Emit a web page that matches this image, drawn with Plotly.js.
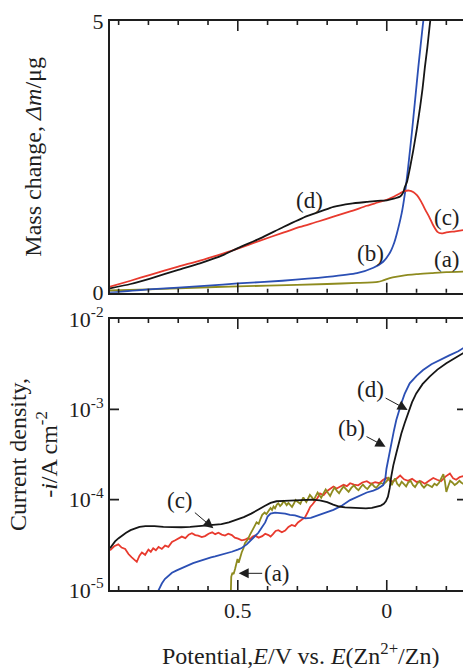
<!DOCTYPE html>
<html>
<head>
<meta charset="utf-8">
<script src="https://cdn.plot.ly/plotly-3.0.1.min.js"></script>
<style>
html,body{margin:0;padding:0;background:#fff;overflow:hidden;width:463px;height:668px;}
#chart{width:480px;height:668px;}
</style>
</head>
<body>
<div id="chart"></div>
<script>
// ---- Top panel: mass change (µg) vs potential (V) ----
const topE_a = [0.929,0.8,0.6,0.4,0.2,0.1,0.03,0.015,0.0,-0.02,-0.05,-0.1,-0.15,-0.2,-0.266];
const topM_a = [0.04,0.06,0.10,0.13,0.16,0.18,0.2,0.22,0.25,0.28,0.31,0.34,0.36,0.38,0.39];

const topE_b = [0.929,0.8,0.6,0.5,0.35,0.2,0.1,0.045,0.012,-0.011,-0.025,-0.034,-0.05,-0.061,-0.072,-0.084,-0.095,-0.106,-0.121,-0.127];
const topM_b = [0.0,0.06,0.13,0.17,0.22,0.29,0.36,0.46,0.57,0.74,0.92,1.09,1.46,1.83,2.32,2.93,3.54,4.15,4.92,5.2];

const topE_c = [0.929,0.86,0.794,0.7,0.627,0.55,0.5,0.425,0.35,0.291,0.23,0.179,0.12,0.067,0.03,0.0,-0.025,-0.045,-0.06,-0.075,-0.09,-0.102,-0.115,-0.13,-0.142,-0.155,-0.17,-0.184,-0.2,-0.23,-0.256,-0.266];
const topM_c = [0.11,0.22,0.33,0.48,0.59,0.72,0.81,0.96,1.1,1.21,1.31,1.4,1.5,1.6,1.66,1.71,1.77,1.83,1.87,1.88,1.85,1.79,1.68,1.52,1.4,1.25,1.12,1.09,1.11,1.13,1.15,1.16];

const topE_d = [0.929,0.86,0.794,0.7,0.627,0.55,0.5,0.425,0.347,0.268,0.22,0.179,0.12,0.067,0.03,0.0,-0.045,-0.055,-0.061,-0.068,-0.078,-0.089,-0.1,-0.112,-0.12,-0.128,-0.136,-0.143,-0.148];
const topM_d = [0.08,0.16,0.26,0.42,0.54,0.69,0.82,1.0,1.21,1.41,1.5,1.58,1.64,1.67,1.69,1.70,1.77,1.84,1.95,2.04,2.3,2.62,2.98,3.42,3.75,4.15,4.5,4.86,5.1];

// ---- Bottom panel: current density (A cm^-2) vs potential (V) ----
const botE_black = [0.929,0.92,0.912,0.9,0.89,0.875,0.86,0.845,0.83,0.81,
  0.78,0.75,0.72,0.69,0.66,0.63,0.61,0.582,0.555,0.53,
  0.5,0.48,0.455,0.435,0.41,0.39,0.37,0.345,0.32,0.3,
  0.275,0.25,0.225,0.2,0.18,0.16,0.14,0.12,0.1,0.07,
  0.05,0.035,0.02,0.01,0.003,-0.004,-0.01,-0.015,-0.022,-0.032,
  -0.04,-0.049,-0.06,-0.071,-0.085,-0.099,-0.12,-0.144,-0.17,-0.2,
  -0.23,-0.256,-0.266];
const botI_black = [2.9e-5,3.2e-5,3.45e-5,3.75e-5,4.0e-5,4.3e-5,4.6e-5,4.8e-5,5.0e-5,5.1e-5,
  5.1e-5,5.0e-5,4.95e-5,4.95e-5,5.0e-5,5.1e-5,5.2e-5,5.3e-5,5.35e-5,5.6e-5,
  6.0e-5,6.4e-5,7.0e-5,7.7e-5,8.5e-5,9.2e-5,9.6e-5,9.7e-5,9.8e-5,9.9e-5,
  1.0e-4,1.0e-4,9.8e-5,9.4e-5,8.8e-5,8.4e-5,8.2e-5,8.1e-5,8.0e-5,8.0e-5,
  8.1e-5,8.3e-5,8.6e-5,9.0e-5,9.6e-5,1.08e-4,1.35e-4,1.8e-4,2.4e-4,3.26e-4,
  4.2e-4,5.4e-4,7.0e-4,9.0e-4,1.2e-3,1.5e-3,1.9e-3,2.3e-3,2.75e-3,3.24e-3,
  3.75e-3,4.17e-3,4.35e-3];

const botE_blue = [0.78,0.766,0.755,0.745,0.733,0.721,0.705,0.688,0.67,0.65,
  0.632,0.61,0.59,0.576,0.555,0.535,0.52,0.5,0.487,0.47,
  0.453,0.44,0.431,0.42,0.408,0.4,0.39,0.375,0.36,0.341,
  0.325,0.308,0.29,0.274,0.255,0.235,0.21,0.179,0.15,0.123,
  0.095,0.067,0.045,0.03,0.012,0.005,0.001,-0.007,-0.015,-0.024,
  -0.032,-0.04,-0.049,-0.06,-0.077,-0.1,-0.122,-0.15,-0.178,-0.21,
  -0.24,-0.256,-0.266];
const botI_blue = [8.0e-6,1.0e-5,1.18e-5,1.32e-5,1.45e-5,1.55e-5,1.65e-5,1.75e-5,1.85e-5,1.98e-5,
  2.07e-5,2.2e-5,2.3e-5,2.35e-5,2.45e-5,2.55e-5,2.65e-5,2.8e-5,2.92e-5,3.2e-5,
  3.6e-5,3.95e-5,4.3e-5,4.9e-5,5.6e-5,6.5e-5,7.0e-5,7.2e-5,7.15e-5,7.0e-5,
  6.8e-5,6.7e-5,6.4e-5,6.2e-5,6.3e-5,6.6e-5,7.1e-5,7.7e-5,8.6e-5,9.9e-5,
  1.1e-4,1.2e-4,1.26e-4,1.32e-4,1.45e-4,1.7e-4,2.2e-4,3.1e-4,4.2e-4,5.8e-4,
  7.6e-4,9.6e-4,1.17e-3,1.48e-3,1.94e-3,2.35e-3,2.72e-3,3.15e-3,3.52e-3,3.95e-3,
  4.4e-3,4.74e-3,4.85e-3];

const botE_red = [0.929,0.915,0.901,0.89,0.878,0.867,0.856,0.848,0.839,0.83,
  0.822,0.811,0.8,0.792,0.784,0.775,0.766,0.755,0.744,0.733,
  0.721,0.71,0.699,0.688,0.676,0.665,0.654,0.643,0.633,0.621,
  0.61,0.598,0.586,0.576,0.565,0.554,0.543,0.532,0.52,0.51,
  0.499,0.487,0.476,0.467,0.459,0.45,0.442,0.43,0.418,0.408,
  0.397,0.39,0.382,0.373,0.364,0.352,0.341,0.33,0.319,0.308,
  0.298,0.286,0.274,0.265,0.257,0.249,0.241,0.232,0.224,0.212,
  0.2,0.19,0.179,0.168,0.157,0.145,0.134,0.123,0.11,0.096,
  0.082,0.067,0.053,0.039,0.025,0.012,0.0,-0.01,-0.021,-0.033,
  -0.045,-0.058,-0.071,-0.085,-0.1,-0.114,-0.128,-0.142,-0.156,-0.169,
  -0.182,-0.197,-0.212,-0.223,-0.233,-0.245,-0.256,-0.266];
const botI_red = [2.75e-5,3.05e-5,3.2e-5,2.95e-5,2.85e-5,2.5e-5,2.3e-5,2.15e-5,2.05e-5,2.4e-5,
  2.6e-5,2.45e-5,2.8e-5,2.65e-5,2.9e-5,2.75e-5,3.0e-5,2.85e-5,3.1e-5,3.0e-5,
  3.4e-5,3.55e-5,3.7e-5,3.9e-5,3.75e-5,4.1e-5,4.25e-5,4.05e-5,4.0e-5,3.85e-5,
  3.95e-5,4.2e-5,4.35e-5,4.15e-5,4.3e-5,4.1e-5,4.0e-5,4.2e-5,4.05e-5,3.8e-5,
  3.7e-5,3.55e-5,3.6e-5,3.75e-5,3.65e-5,3.9e-5,4.0e-5,3.8e-5,3.95e-5,4.2e-5,
  4.05e-5,3.9e-5,4.15e-5,4.5e-5,4.6e-5,4.35e-5,4.55e-5,5.0e-5,5.25e-5,5.1e-5,
  5.6e-5,6.0e-5,6.4e-5,7.3e-5,8.3e-5,8.9e-5,9.6e-5,1.05e-4,1.17e-4,1.12e-4,
  1.25e-4,1.32e-4,1.4e-4,1.33e-4,1.38e-4,1.46e-4,1.41e-4,1.52e-4,1.47e-4,1.44e-4,
  1.55e-4,1.6e-4,1.5e-4,1.56e-4,1.52e-4,1.66e-4,1.74e-4,1.62e-4,1.58e-4,1.7e-4,
  1.85e-4,1.68e-4,1.62e-4,1.7e-4,1.57e-4,1.6e-4,1.5e-4,1.62e-4,1.74e-4,1.66e-4,
  1.6e-4,1.8e-4,1.95e-4,1.72e-4,1.66e-4,1.78e-4,1.82e-4,1.75e-4];

const botE_olive = [0.524,0.522,0.518,0.514,0.509,0.505,0.501,0.497,0.492,0.487,
  0.481,0.476,0.47,0.465,0.459,0.453,0.445,0.437,0.43,0.424,
  0.418,0.41,0.404,0.397,0.39,0.385,0.38,0.375,0.369,0.364,
  0.358,0.352,0.347,0.342,0.336,0.33,0.324,0.318,0.312,0.306,
  0.298,0.29,0.285,0.28,0.275,0.27,0.264,0.258,0.251,0.245,
  0.238,0.232,0.226,0.22,0.212,0.205,0.198,0.19,0.182,0.175,
  0.168,0.16,0.152,0.145,0.136,0.128,0.119,0.11,0.102,0.095,
  0.087,0.08,0.072,0.065,0.057,0.05,0.042,0.035,0.027,0.02,
  0.01,0.0,-0.006,-0.012,-0.017,-0.022,-0.028,-0.035,-0.042,-0.05,
  -0.058,-0.065,-0.072,-0.08,-0.088,-0.095,-0.103,-0.11,-0.118,-0.125,
  -0.135,-0.145,-0.152,-0.16,-0.168,-0.176,-0.183,-0.19,-0.195,-0.2,
  -0.206,-0.213,-0.22,-0.228,-0.236,-0.244,-0.25,-0.256,-0.266];
const botI_olive = [8e-6,1.4e-5,1.55e-5,1.5e-5,1.72e-5,1.95e-5,2.2e-5,2.0e-5,2.3e-5,2.6e-5,
  2.9e-5,3.3e-5,3.5e-5,3.7e-5,4.1e-5,4.4e-5,5.0e-5,5.6e-5,5.4e-5,6.1e-5,
  6.8e-5,7.2e-5,6.9e-5,7.5e-5,8.1e-5,7.7e-5,8.4e-5,8.0e-5,8.8e-5,9.1e-5,
  8.5e-5,8.9e-5,9.6e-5,9.3e-5,8.7e-5,9.2e-5,8.6e-5,8.3e-5,9.0e-5,9.9e-5,
  9.4e-5,9.0e-5,9.8e-5,1.06e-4,9.9e-5,9.4e-5,1.03e-4,1.13e-4,1.06e-4,9.9e-5,
  1.1e-4,1.2e-4,1.12e-4,1.05e-4,1.18e-4,1.3e-4,1.2e-4,1.1e-4,1.25e-4,1.36e-4,
  1.26e-4,1.18e-4,1.3e-4,1.4e-4,1.3e-4,1.22e-4,1.35e-4,1.44e-4,1.33e-4,1.27e-4,
  1.38e-4,1.47e-4,1.37e-4,1.31e-4,1.42e-4,1.5e-4,1.4e-4,1.35e-4,1.46e-4,1.53e-4,
  1.49e-4,1.6e-4,1.78e-4,1.55e-4,1.45e-4,1.6e-4,1.72e-4,1.5e-4,1.42e-4,1.58e-4,
  1.5e-4,1.4e-4,1.55e-4,1.62e-4,1.45e-4,1.38e-4,1.52e-4,1.6e-4,1.44e-4,1.36e-4,
  1.48e-4,1.42e-4,1.38e-4,1.5e-4,1.44e-4,1.55e-4,1.7e-4,1.92e-4,1.6e-4,1.22e-4,
  1.4e-4,1.62e-4,1.55e-4,1.45e-4,1.52e-4,1.62e-4,1.55e-4,1.5e-4,1.58e-4];

// ---- Tick positions and labels ----
const xTickVals = [0.5, 0];
const xTickText = ['0.5', '0'];
const xMinorTickVals = [0.9, 0.8, 0.7, 0.6, 0.5, 0.4, 0.3, 0.2, 0.1, 0, -0.1, -0.2];
const topYTickVals = [0, 5];
const topYTickText = ['0', '5'];
const botYTickVals = [1e-5, 1e-4, 1e-3, 1e-2];
const botYTickText = ['10<sup>-5</sup>', '10<sup>-4</sup>', '10<sup>-3</sup>', '10<sup>-2</sup>'];
const botYInnerTicks = [1e-4, 1e-3];

const C_BLACK = '#161616', C_RED = '#e83a2e', C_BLUE = '#2b4fb4', C_OLIVE = '#8e8b1f';
const INK = '#1e1e1e';
const FONT = '"Liberation Serif", "Times New Roman", serif';

const xRange = [0.929, -0.266];
const topYRange = [0, 5];
const botYRange = [-5, -2];   // log10 units

const W = 480, H = 668, ML = 110, MR = 14, MT = 21, MB = 78;
const TOP_DOM = [0.5225, 1], BOT_DOM = [0, 0.4763];

function line(x, y, color, xa, ya, shape) {
  return {x: x, y: y, type: 'scatter', mode: 'lines', xaxis: xa, yaxis: ya,
    line: {color: color, width: 1.8, shape: shape || 'linear', smoothing: 0.6},
    hoverinfo: 'skip', showlegend: false};
}

const data = [
  line(topE_a, topM_a, C_OLIVE, 'x', 'y', 'spline'),
  line(topE_b, topM_b, C_BLUE, 'x', 'y', 'spline'),
  line(topE_c, topM_c, C_RED, 'x', 'y', 'spline'),
  line(topE_d, topM_d, C_BLACK, 'x', 'y', 'spline'),
  line(botE_red, botI_red, C_RED, 'x2', 'y2'),
  line(botE_olive, botI_olive, C_OLIVE, 'x2', 'y2'),
  line(botE_blue, botI_blue, C_BLUE, 'x2', 'y2'),
  line(botE_black, botI_black, C_BLACK, 'x2', 'y2')
];

// inward tick marks, drawn as head-less annotation arrows of fixed pixel length
const tickMarks = [];
function tick(xref, x, yref, y, ax, ay) {
  tickMarks.push({text: '.', xref: xref, x: x, yref: yref, y: y, ax: ax, ay: ay,
    showarrow: true, arrowhead: 0, arrowwidth: 1.6, arrowcolor: INK,
    standoff: 0, startstandoff: 0, borderpad: 0,
    font: {size: 1, color: 'rgba(0,0,0,0)'}});
}
[['x', TOP_DOM], ['x2', BOT_DOM]].forEach(function (p) {
  xMinorTickVals.forEach(function (v) {
    const len = xTickVals.indexOf(v) >= 0 ? 11 : 5;
    tick(p[0], v, 'paper', p[1][0], 0, -len);
    tick(p[0], v, 'paper', p[1][1], 0, len);
  });
});
botYInnerTicks.forEach(function (v) {
  tick('paper', 0, 'y2', Math.log10(v), 10, 0);
  tick('paper', 1, 'y2', Math.log10(v), -10, 0);
});

const frame = {showline: true, linewidth: 2, linecolor: INK, mirror: true, showgrid: false, zeroline: false, ticks: ''};

const labelAnnotations = [
  {text: 'Potential,<i>E</i>/V vs. <i>E</i>(Zn<sup>2+</sup>/Zn)', xref: 'paper', yref: 'paper',
    x: 0.534, y: -0.112, xanchor: 'center', yanchor: 'middle', showarrow: false,
    font: {family: FONT, size: 24, color: INK}},
  {text: '(d)', xref: 'x', yref: 'y', x: 0.26, y: 1.70, showarrow: false, font: {size: 23}},
  {text: '(c)', xref: 'x', yref: 'y', x: -0.202, y: 1.39, showarrow: false, font: {size: 23}},
  {text: '(b)', xref: 'x', yref: 'y', x: 0.053, y: 0.73, showarrow: false, font: {size: 23}},
  {text: '(a)', xref: 'x', yref: 'y', x: -0.202, y: 0.62, showarrow: false, font: {size: 23}},
  {text: '(c)', xref: 'x2', yref: 'y2', x: 0.582, y: Math.log10(4.82e-5), ax: -33, ay: -28,
    showarrow: true, arrowhead: 2, arrowsize: 2, arrowwidth: 1, arrowcolor: INK, font: {size: 23}},
  {text: '(d)', xref: 'x2', yref: 'y2', x: -0.07, y: Math.log10(9.84e-4), ax: -37, ay: -20,
    showarrow: true, arrowhead: 2, arrowsize: 2, arrowwidth: 1, arrowcolor: INK, font: {size: 23}},
  {text: '(b)', xref: 'x2', yref: 'y2', x: 0.004, y: Math.log10(3.86e-4), ax: -34, ay: -18,
    showarrow: true, arrowhead: 2, arrowsize: 2, arrowwidth: 1, arrowcolor: INK, font: {size: 23}},
  {text: '(a)', xref: 'x2', yref: 'y2', x: 0.497, y: Math.log10(1.53e-5), ax: 38, ay: 0,
    showarrow: true, arrowhead: 2, arrowsize: 2, arrowwidth: 1, arrowcolor: INK, font: {size: 23}}
];

const layout = {
  width: W, height: H,
  margin: {l: ML, r: MR, t: MT, b: MB},
  paper_bgcolor: '#fff', plot_bgcolor: '#fff',
  showlegend: false,
  font: {family: FONT, color: INK, size: 22},
  xaxis: Object.assign({}, frame, {domain: [0, 1], anchor: 'y', range: xRange.slice(), showticklabels: false}),
  xaxis2: Object.assign({}, frame, {domain: [0, 1], anchor: 'y2', range: xRange.slice(),
    tickmode: 'array', tickvals: xTickVals, ticktext: xTickText, showticklabels: true,
    tickfont: {family: FONT, size: 22, color: INK}}),
  yaxis: Object.assign({}, frame, {
    domain: TOP_DOM, anchor: 'x', range: topYRange.slice(),
    tickmode: 'array', tickvals: topYTickVals, ticktext: topYTickText,
    tickfont: {family: FONT, size: 22, color: INK},
    title: {text: 'Mass change, <i>Δm</i>/μg', font: {family: FONT, size: 24, color: INK}, standoff: 44}
  }),
  yaxis2: Object.assign({}, frame, {
    domain: BOT_DOM, anchor: 'x2', type: 'log', range: botYRange.slice(),
    tickmode: 'array', tickvals: botYTickVals, ticktext: botYTickText,
    tickfont: {family: FONT, size: 22, color: INK},
    title: {text: 'Current density,<br>-<i>i</i>/A cm<sup>-2</sup>', font: {family: FONT, size: 24, color: INK}, standoff: 4}
  }),
  annotations: labelAnnotations.concat(tickMarks)
};

Plotly.newPlot('chart', data, layout, {displayModeBar: false});
</script>
</body>
</html>
